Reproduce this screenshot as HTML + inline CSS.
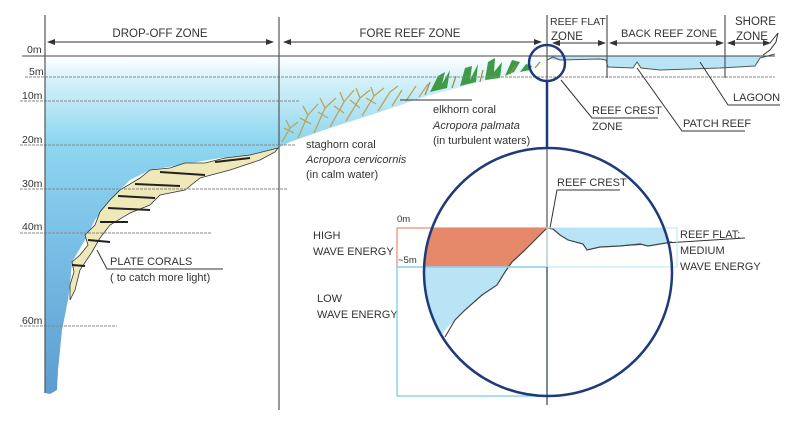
<!DOCTYPE html>
<html><head><meta charset="utf-8"><style>
html,body{margin:0;padding:0;background:#fff;width:800px;height:427px;overflow:hidden}
svg text{font-family:"Liberation Sans",sans-serif;fill:#333}
</style></head><body>
<svg width="800" height="427" viewBox="0 0 800 427" xmlns="http://www.w3.org/2000/svg">
<defs>
<linearGradient id="w" x1="0" y1="56" x2="0" y2="400" gradientUnits="userSpaceOnUse">
<stop offset="0" stop-color="#ffffff"/><stop offset="0.07" stop-color="#d5f1fa"/>
<stop offset="0.25" stop-color="#8ed6f0"/><stop offset="0.5" stop-color="#7cc3e8"/><stop offset="1" stop-color="#5b9bd0"/></linearGradient>
<marker id="a" markerWidth="8" markerHeight="8" refX="7" refY="4" orient="auto" markerUnits="userSpaceOnUse"><path d="M0,1 L8,4 L0,7z" fill="#333"/></marker>
<marker id="b" markerWidth="8" markerHeight="8" refX="1" refY="4" orient="auto" markerUnits="userSpaceOnUse"><path d="M8,1 L0,4 L8,7z" fill="#333"/></marker>
</defs>
<path d="M45,56 L547,56 L547,62 L530,70 L480,82 L430,95 L380,112 L330,128 L290,142 L278,148 L250,155 L220,158 L180,165 L150,170 L130,180 L110,200 L95,220 L85,240 L72,262 L70,285 L68,300 L62,330 L58,370 L57,390 L50,394 L45,393 Z" fill="url(#w)"/>
<path d="M547,56 L775,56 L760,58 L755,66 L720,68 L660,70 L640,68 L637,62 L633,68 L608,67 L606,60 L600,59 L560,60 L553,60 Z" fill="#b8e4f6"/>
<path d="M547,60 L553,57 L560,60 L600,59 L606,60 L608,67 L633,68 L637,62 L641,68 L660,70 L720,68 L755,66 L760,58 L775,54" fill="none" stroke="#555" stroke-width="1"/>
<path d="M278,148 L250,155 L225,158 L205,163 L185,163 L170,168 L150,170 L140,178 L120,190 L110,200 L100,212 L95,225 L85,235 L88,245 L80,255 L72,262 L74,272 L70,285 L70,300 L75,290 L80,270 L92,252 L100,238 L110,225 L130,213 L150,205 L160,195 L185,190 L200,178 L230,170 L260,160 L275,152 Z" fill="#efe8b8" stroke="#333" stroke-width="0.8"/>
<g stroke="#222" stroke-width="2" fill="none">
<path d="M108,208 L150,210"/><path d="M118,196 L155,198"/><path d="M135,184 L180,186"/><path d="M160,172 L205,175"/><path d="M215,162 L250,158"/><path d="M88,240 L110,242"/><path d="M72,265 L85,266"/><path d="M100,222 L128,222"/></g>
<g stroke="#b9a55a" stroke-width="1.3" fill="none">
<path d="M282,142 L290,128 L286,120 M290,128 L298,122 M298,138 L308,115 L303,106 M308,115 L318,104 M314,133 L325,108 L320,98 M325,108 L336,98 M330,127 L344,102 L340,92 M344,102 L354,90 M346,121 L360,98 L356,88 M360,98 L370,90 M362,116 L374,96 L371,87 M374,96 L384,88 M378,111 L390,92 M390,92 L398,86 M392,106 L402,90 M406,101 L416,86 M419,97 L428,84 M294,133 L284,128 M311,124 L300,118 M328,118 L318,112 M344,113 L334,106 M360,108 L350,100 M376,104 L366,98"/></g>
<g fill="#3f9a45"><path d="M430,92 L438,76 L445,72 L442,84 L450,70 L447,88 Z"/><path d="M460,86 L465,68 L472,66 L470,80 L478,64 L476,82 Z"/><path d="M485,80 L488,62 L495,58 L494,72 L502,62 L500,78 Z"/><path d="M505,76 L512,60 L520,62 L514,72 Z"/><path d="M520,72 L526,64 L532,66 L530,70 Z"/></g>
<g stroke="#9a8a45" stroke-width="1.2" fill="none"><path d="M425,95 L430,82 M452,88 L456,76 M480,82 L483,70 M510,74 L515,66 M535,68 L540,62"/></g>
<line x1="22" y1="56" x2="775" y2="56" stroke="#444" stroke-width="1"/>
<g stroke="#888" stroke-width="1" stroke-dasharray="3,1">
<line x1="25" y1="77" x2="775" y2="77"/><line x1="20" y1="101" x2="300" y2="101"/><line x1="20" y1="145" x2="295" y2="145"/><line x1="20" y1="189" x2="287" y2="189"/><line x1="20" y1="233" x2="212" y2="233"/><line x1="20" y1="326" x2="117" y2="326"/></g>
<g font-size="10.5"><text x="27" y="53">0m</text><text x="29" y="75">5m</text><text x="22" y="99">10m</text><text x="22" y="143">20m</text><text x="22" y="187">30m</text><text x="22" y="230">40m</text><text x="22" y="324">60m</text></g>
<g stroke="#555" stroke-width="1.2"><line x1="45" y1="15" x2="45" y2="393"/><line x1="279" y1="17" x2="279" y2="410"/><line x1="547" y1="15" x2="547" y2="405"/><line x1="607" y1="15" x2="607" y2="78"/><line x1="725" y1="15" x2="725" y2="78"/></g>
<g stroke="#333" stroke-width="1" marker-start="url(#b)" marker-end="url(#a)">
<line x1="48" y1="42" x2="273" y2="42"/><line x1="284" y1="42" x2="541" y2="42"/><line x1="553" y1="43" x2="605" y2="43"/><line x1="610" y1="43" x2="723" y2="43"/><line x1="728" y1="43" x2="770" y2="43"/></g>
<path d="M770,43 L778,33 L776,42 L770,50 L763,55" fill="none" stroke="#333"/>
<g font-size="11.5"><text x="160" y="37" text-anchor="middle">DROP-OFF ZONE</text><text x="410" y="37" text-anchor="middle">FORE REEF ZONE</text>
<text x="550" y="25" font-size="10.5">REEF FLAT</text><text x="551" y="40">ZONE</text><text x="621" y="37" font-size="11">BACK REEF ZONE</text><text x="735" y="25">SHORE</text><text x="736" y="40">ZONE</text></g>
<g stroke="#333" stroke-width="1" fill="none">
<path d="M700,62 L728,105 L780,105"/><path d="M637,68 L682,131 L745,131"/><path d="M561,80 L592,118 L658,118"/><path d="M400,100 L472,100"/><path d="M97,250 L107,269 L223,269"/><path d="M550,228 L557,190 L620,190"/><path d="M600,247 L745,238"/></g>
<g font-size="11"><text x="733" y="101">LAGOON</text><text x="683" y="127">PATCH REEF</text><text x="592" y="114">REEF CREST</text><text x="592" y="130">ZONE</text>
<text x="433" y="113">elkhorn coral</text><text x="433" y="129" font-style="italic">Acropora palmata</text><text x="433" y="144">(in turbulent waters)</text>
<text x="306" y="148">staghorn coral</text><text x="306" y="163" font-style="italic">Acropora cervicornis</text><text x="306" y="178">(in calm water)</text>
<text x="110" y="265">PLATE CORALS</text><text x="110" y="281">( to catch more light)</text>
<text x="557" y="186">REEF CREST</text>
<text x="313" y="239">HIGH</text><text x="313" y="255">WAVE ENERGY</text><text x="317" y="302">LOW</text><text x="317" y="318">WAVE ENERGY</text>
<text x="680" y="238">REEF FLAT:</text><text x="680" y="254">MEDIUM</text><text x="680" y="270">WAVE ENERGY</text></g>
<g font-size="9.5"><text x="397" y="222">0m</text><text x="398" y="263">~5m</text></g>
<clipPath id="c"><circle cx="548" cy="272" r="124"/></clipPath>
<g clip-path="url(#c)">
<path d="M397,228 L547,228 L540,235 L525,250 L512,262 L509,267 L397,267 Z" fill="#e5896a"/>
<path d="M397,267 L509,267 L505,272 L497,285 L482,295 L465,310 L455,320 L445,330 L440,338 L397,338 Z" fill="#b8e4f6"/>
<path d="M547,228 L677,228 L677,242 L648,246 L640,244 L620,246 L600,247 L587,250 L583,244 L568,240 L560,235 L553,229 Z" fill="#b8e4f6"/>
</g>
<path d="M445,337 L455,320 L465,310 L482,295 L497,285 L505,272 L512,262 L525,250 L540,235 L547,228 L553,229 L560,235 L568,240 L583,244 L587,250 L600,247 L620,246 L640,244 L648,246 L672,242" fill="none" stroke="#444" stroke-width="1.2"/>
<rect x="397" y="228" width="150" height="39" fill="none" stroke="#e5896a" stroke-width="1.2"/>
<rect x="397" y="267" width="150" height="129" fill="none" stroke="#8fd3f0" stroke-width="1.5"/>
<rect x="547" y="228" width="130" height="39" fill="none" stroke="#b8e4f6" stroke-width="1"/>
<line x1="547" y1="267" x2="547" y2="405" stroke="#555" stroke-width="1.2"/>
<circle cx="548" cy="272" r="124" fill="none" stroke="#1f3a78" stroke-width="2.5"/>
<circle cx="547" cy="63" r="18" fill="none" stroke="#1f3a78" stroke-width="2.5"/>
<line x1="547" y1="81" x2="547" y2="148" stroke="#1f3a78" stroke-width="2.5"/>
</svg>
</body></html>
